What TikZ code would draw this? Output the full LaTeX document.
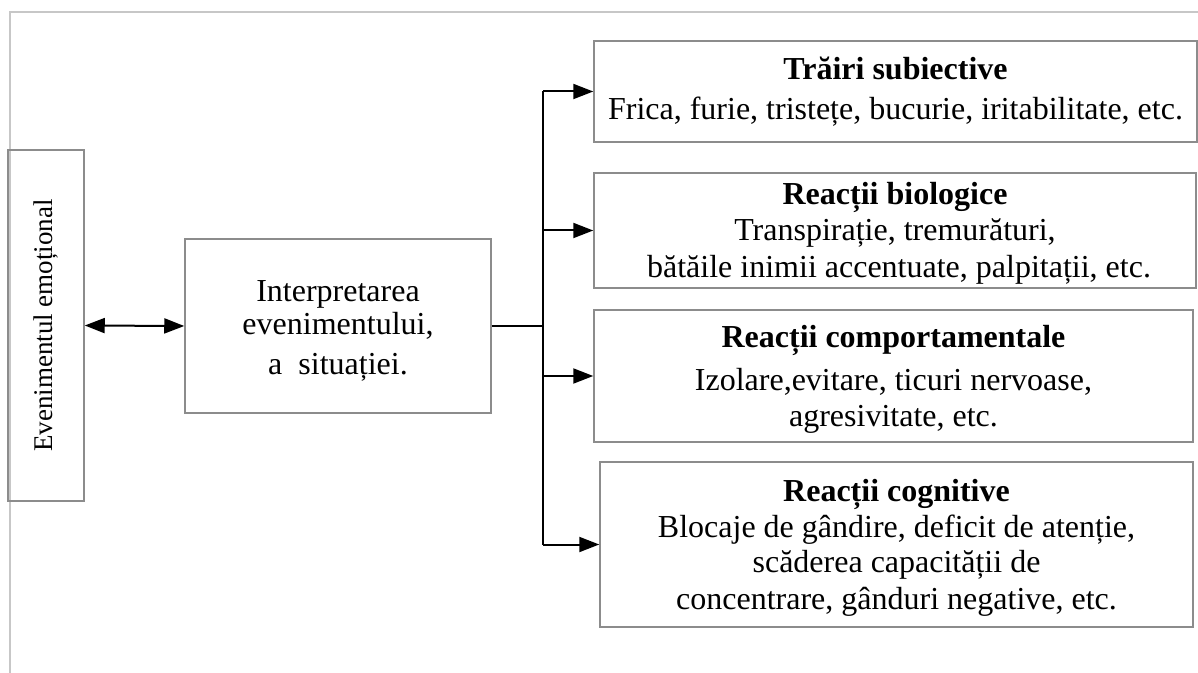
\documentclass[tikz,border=0pt]{standalone}
\usepackage{fontspec}
\usepackage{graphicx}
\setmainfont{Liberation Serif}
\usetikzlibrary{arrows.meta}
\begin{document}
\begin{tikzpicture}[x=0.5pt,y=-0.5pt,
  frame/.style={draw=black!22, line width=1pt},
  box/.style={draw=black!45, line width=0.75pt, inner sep=0pt, align=center,
    font=\fontsize{16}{18}\selectfont},
  link/.style={draw=black, line width=1pt},
  tip/.tip={Triangle[length=10pt,width=7.5pt]},
  arr/.style={link, -tip},
  darr/.style={link, tip-tip}]
\useasboundingbox (0,0) rectangle (1198,673);

% page frame (top and left edges)
\draw[frame] (1198,12) -- (10,12) -- (10,673);

% source event
\node[box, minimum width=38pt, minimum height=175.5pt] (ev) at (46,325.5)
  {\fontsize{13.5}{16}\selectfont\rotatebox{90}{Evenimentul emoțional}};

% interpretation
\node[box, minimum width=153pt, minimum height=87pt] (mid) at (338,326)
  {\rule{0pt}{15pt}Interpretarea\\[-1.5pt] evenimentului,\\[2pt] a\ \ situației.};

% reactions
\node[box, minimum width=301.5pt, minimum height=50.5pt] (b1) at (895.5,91.5)
  {\textbf{Trăiri subiective}\\[2pt]
   Frica, furie, tristețe, bucurie, iritabilitate, etc.};
\node[box, minimum width=301pt, minimum height=57.5pt] (b2) at (895,230.5)
  {\rule{0pt}{14pt}\textbf{Reacții biologice}\\
   Transpirație, tremurături,\\[0.5pt]
   \ bătăile inimii accentuate, palpitații, etc.};
\node[box, minimum width=299.5pt, minimum height=66pt] (b3) at (893.5,376)
  {\rule{0pt}{14pt}\textbf{Reacții comportamentale}\\[3.5pt]
   Izolare,evitare, ticuri nervoase,\\
   agresivitate, etc.};
\node[box, minimum width=296.5pt, minimum height=82.5pt] (b4) at (896.5,544.5)
  {\rule{0pt}{14pt}\textbf{Reacții cognitive}\\
   Blocaje de gândire, deficit de atenție,\\[-0.5pt]
   scăderea capacității de\\[0.5pt]
   concentrare, gânduri negative, etc.};

% connectors
\draw[darr] (ev.east) -- (mid.west);
\coordinate (tr) at (543,326);
\draw[link] (mid.east) -- (tr);
\draw[link] (tr |- b1.west) -- (tr |- b4.west);
\draw[arr] (tr |- b1.west) -- (b1.west);
\draw[arr] (tr |- b2.west) -- (b2.west);
\draw[arr] (tr |- b3.west) -- (b3.west);
\draw[arr] (tr |- b4.west) -- (b4.west);
\end{tikzpicture}
\end{document}
